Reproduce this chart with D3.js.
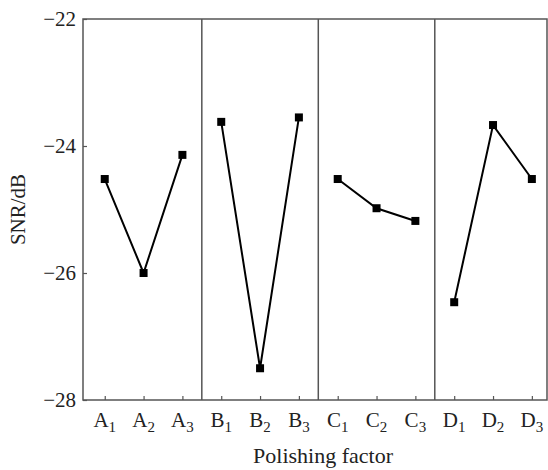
<!DOCTYPE html>
<html>
<head>
<meta charset="utf-8">
<script src="https://cdn.jsdelivr.net/npm/d3@7"></script>
<style>
  body { margin: 0; background: #fff; }
  svg { display: block; }
  text { font-family: "Liberation Serif", "Times New Roman", serif; fill: #222; }
</style>
</head>
<body>
<svg id="chart" width="548" height="470"></svg>
<script>
// データ
var factors = ['A', 'B', 'C', 'D'];
var levels = ['1', '2', '3'];
var snr = [
  [-24.52, -26.0, -24.14],   // A
  [-23.62, -27.5, -23.55],   // B
  [-24.52, -24.98, -25.18],  // C
  [-26.46, -23.67, -24.52]   // D
];
var yTicks = [-22, -24, -26, -28];

var serif = '"Liberation Serif", "Times New Roman", serif';
var svg = d3.select('#chart');
var plotL = 83, plotR = 547, plotT = 19, plotB = 400;

// x: 点の通し番号 (0..11)
var x = d3.scaleLinear().domain([-0.56, 11.39]).range([plotL, plotR]);
var y = d3.scaleLinear().domain([-28, -22]).range([plotB, plotT]);

// 区切り線
svg.selectAll('line.sep')
  .data([2.5, 5.5, 8.5])
  .enter()
  .append('line')
  .attr('x1', function(d) { return x(d); })
  .attr('x2', function(d) { return x(d); })
  .attr('y1', plotT)
  .attr('y2', plotB)
  .attr('stroke', '#555')
  .attr('stroke-width', 1.5);

// 枠
svg.append('rect')
  .attr('x', plotL).attr('y', plotT)
  .attr('width', plotR - plotL).attr('height', plotB - plotT)
  .attr('fill', 'none')
  .attr('stroke', '#555')
  .attr('stroke-width', 1.5);

// y軸
var yAxis = svg.append('g')
  .attr('transform', 'translate(' + plotL + ',0)')
  .call(d3.axisLeft(y).tickValues(yTicks).tickSize(-4).tickPadding(7)
    .tickFormat(function(d) { return '\u2212' + Math.abs(d); }));
yAxis.select('.domain').remove();
yAxis.selectAll('line').attr('stroke', '#555').attr('stroke-width', 1.2);
yAxis.selectAll('text')
  .style('font-family', serif)
  .style('font-size', '21px')
  .attr('fill', '#222');

// x軸の目盛り
var idx = d3.range(factors.length * levels.length);
var xAxis = svg.append('g')
  .attr('transform', 'translate(0,' + plotB + ')')
  .call(d3.axisBottom(x).tickValues(idx).tickSize(-4).tickFormat(''));
xAxis.select('.domain').remove();
xAxis.selectAll('line').attr('stroke', '#555').attr('stroke-width', 1.2);

// x軸ラベル（添字つき）
var lab = svg.selectAll('text.cat')
  .data(idx)
  .enter()
  .append('text')
  .attr('class', 'cat')
  .attr('x', function(d) { return x(d); })
  .attr('y', 427)
  .attr('text-anchor', 'middle')
  .style('font-size', '21px');
lab.append('tspan').text(function(d) { return factors[Math.floor(d / 3)]; });
lab.append('tspan')
  .attr('dy', 5)
  .style('font-size', '15px')
  .text(function(d) { return levels[d % 3]; });

// 折れ線とマーカー
var line = d3.line()
  .x(function(d) { return x(d.i); })
  .y(function(d) { return y(d.v); });

factors.forEach(function(f, k) {
  var pts = snr[k].map(function(v, j) { return { i: k * 3 + j, v: v }; });
  svg.append('path')
    .datum(pts)
    .attr('d', line)
    .attr('fill', 'none')
    .attr('stroke', '#000')
    .attr('stroke-width', 2);
  svg.selectAll('rect.m' + f)
    .data(pts)
    .enter()
    .append('rect')
    .attr('x', function(d) { return x(d.i) - 4; })
    .attr('y', function(d) { return y(d.v) - 4; })
    .attr('width', 8)
    .attr('height', 8)
    .attr('fill', '#000');
});

// 軸タイトル
svg.append('text')
  .attr('x', (plotL + plotR) / 2 + 8)
  .attr('y', 463)
  .attr('text-anchor', 'middle')
  .style('font-size', '22px')
  .text('Polishing factor');

svg.append('text')
  .attr('transform', 'translate(25,' + ((plotT + plotB) / 2) + ') rotate(-90)')
  .attr('text-anchor', 'middle')
  .style('font-size', '21px')
  .text('SNR/dB');
</script>
</body>
</html>
